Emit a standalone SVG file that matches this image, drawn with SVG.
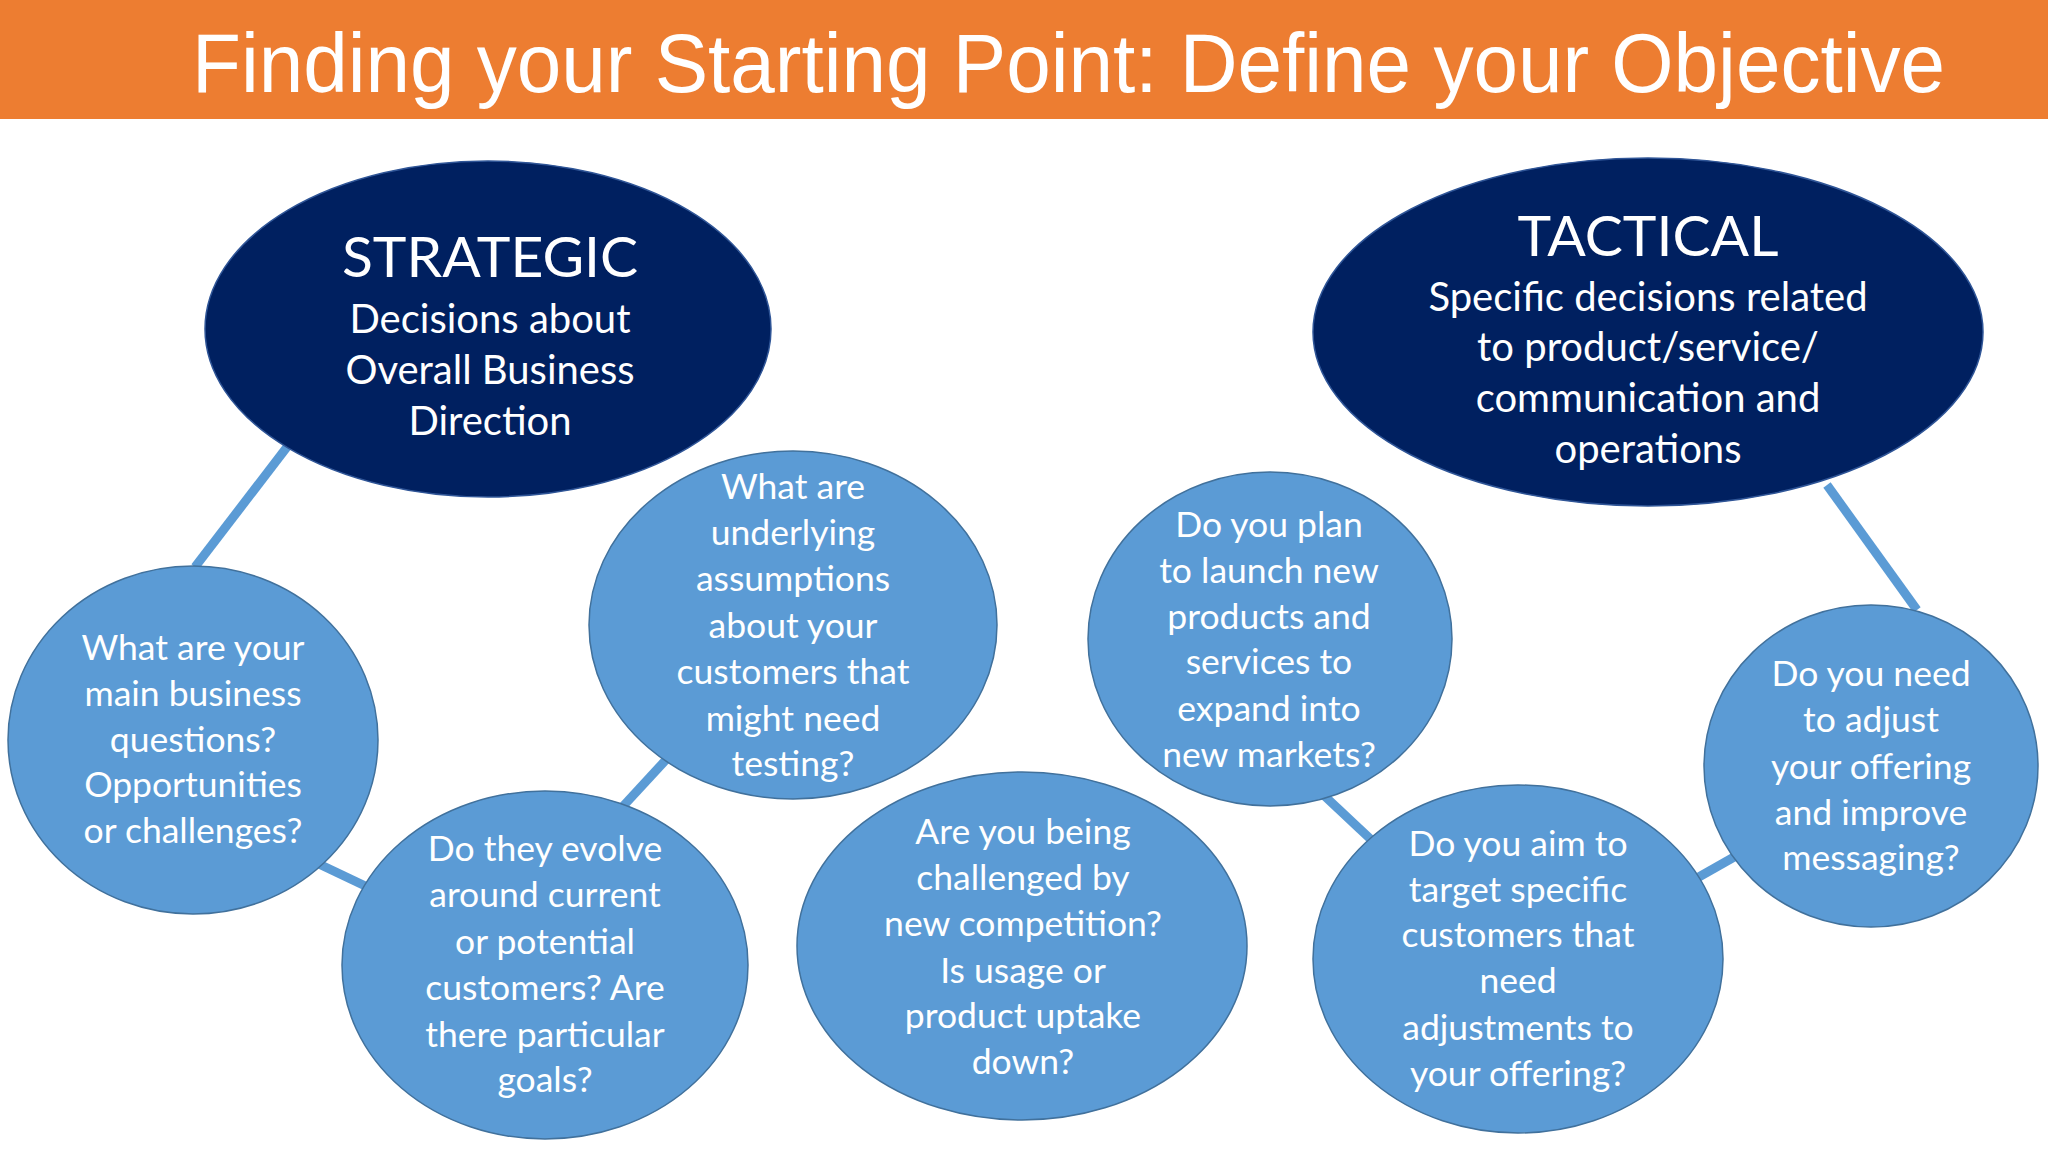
<svg xmlns="http://www.w3.org/2000/svg" width="2048" height="1152" viewBox="0 0 2048 1152">
<style>
.title{font-family:"Liberation Sans Narrow","Liberation Sans",Arial,sans-serif;font-size:84px;fill:#fff}
.big{fill:#002060;stroke:#2F5597;stroke-width:1.5}
.q{fill:#5B9BD5;stroke:#41719C;stroke-width:1.5}
.hd{font-family:Lato,"Open Sans",sans-serif;font-size:57px;fill:#fff;text-anchor:middle}
.bt{font-family:Lato,"Open Sans",sans-serif;font-size:40px;fill:#fff;text-anchor:middle}
.qt{font-family:Lato,"Open Sans",sans-serif;font-size:35.5px;fill:#fff;text-anchor:middle}
.con line{stroke:#5B9BD5;stroke-width:9}
</style>
<rect width="2048" height="1152" fill="#fff"/>
<g id="header">
<rect x="0" y="0" width="2048" height="119" fill="#ED7D31"/>
<text class="title" x="192" y="92" textLength="1753" lengthAdjust="spacingAndGlyphs">Finding your Starting Point: Define your Objective</text>
</g>
<g id="connectors" class="con">
<line x1="287" y1="447" x2="195" y2="567"/>
<line x1="300" y1="855" x2="380" y2="893"/>
<line x1="615" y1="815" x2="675" y2="750"/>
<line x1="1315" y1="787" x2="1380" y2="848"/>
<line x1="1690" y1="882" x2="1750" y2="848"/>
<line x1="1827" y1="485" x2="1917" y2="610"/>
</g>
<g id="strategic">
<ellipse class="big" cx="488" cy="329" rx="283" ry="168"/>
<text class="hd" x="490" y="277">STRATEGIC</text>
<text class="bt" x="490" y="333">Decisions about</text>
<text class="bt" x="490" y="384">Overall Business</text>
<text class="bt" x="490" y="435">Direction</text>
</g>
<g id="tactical">
<ellipse class="big" cx="1648" cy="332" rx="335" ry="174"/>
<text class="hd" x="1648" y="256">TACTICAL</text>
<text class="bt" x="1648" y="311">Specific decisions related</text>
<text class="bt" x="1648" y="361">to product/service/</text>
<text class="bt" x="1648" y="412">communication and</text>
<text class="bt" x="1648" y="463">operations</text>
</g>
<g id="q1">
<ellipse class="q" cx="193" cy="740" rx="185" ry="174"/>
<text class="qt" x="193" y="660">What are your</text>
<text class="qt" x="193" y="706">main business</text>
<text class="qt" x="193" y="752">questions?</text>
<text class="qt" x="193" y="797">Opportunities</text>
<text class="qt" x="193" y="843">or challenges?</text>
</g>
<g id="q2">
<ellipse class="q" cx="545" cy="965" rx="203" ry="174"/>
<text class="qt" x="545" y="861">Do they evolve</text>
<text class="qt" x="545" y="907">around current</text>
<text class="qt" x="545" y="954">or potential</text>
<text class="qt" x="545" y="1000">customers? Are</text>
<text class="qt" x="545" y="1047">there particular</text>
<text class="qt" x="545" y="1092">goals?</text>
</g>
<g id="q3">
<ellipse class="q" cx="793" cy="625" rx="204" ry="174"/>
<text class="qt" x="793" y="499">What are</text>
<text class="qt" x="793" y="545">underlying</text>
<text class="qt" x="793" y="591">assumptions</text>
<text class="qt" x="793" y="638">about your</text>
<text class="qt" x="793" y="684">customers that</text>
<text class="qt" x="793" y="731">might need</text>
<text class="qt" x="793" y="776">testing?</text>
</g>
<g id="q4">
<ellipse class="q" cx="1022" cy="946" rx="225" ry="174"/>
<text class="qt" x="1023" y="844">Are you being</text>
<text class="qt" x="1023" y="890">challenged by</text>
<text class="qt" x="1023" y="936">new competition?</text>
<text class="qt" x="1023" y="983">Is usage or</text>
<text class="qt" x="1023" y="1028">product uptake</text>
<text class="qt" x="1023" y="1074">down?</text>
</g>
<g id="q5">
<ellipse class="q" cx="1270" cy="639" rx="182" ry="167"/>
<text class="qt" x="1269" y="537">Do you plan</text>
<text class="qt" x="1269" y="583">to launch new</text>
<text class="qt" x="1269" y="629">products and</text>
<text class="qt" x="1269" y="674">services to</text>
<text class="qt" x="1269" y="721">expand into</text>
<text class="qt" x="1269" y="767">new markets?</text>
</g>
<g id="q6">
<ellipse class="q" cx="1518" cy="959" rx="205" ry="174"/>
<text class="qt" x="1518" y="856">Do you aim to</text>
<text class="qt" x="1518" y="902">target specific</text>
<text class="qt" x="1518" y="947">customers that</text>
<text class="qt" x="1518" y="993">need</text>
<text class="qt" x="1518" y="1040">adjustments to</text>
<text class="qt" x="1518" y="1086">your offering?</text>
</g>
<g id="q7">
<ellipse class="q" cx="1871" cy="766" rx="167" ry="161"/>
<text class="qt" x="1871" y="686">Do you need</text>
<text class="qt" x="1871" y="732">to adjust</text>
<text class="qt" x="1871" y="779">your offering</text>
<text class="qt" x="1871" y="825">and improve</text>
<text class="qt" x="1871" y="870">messaging?</text>
</g>
</svg>
